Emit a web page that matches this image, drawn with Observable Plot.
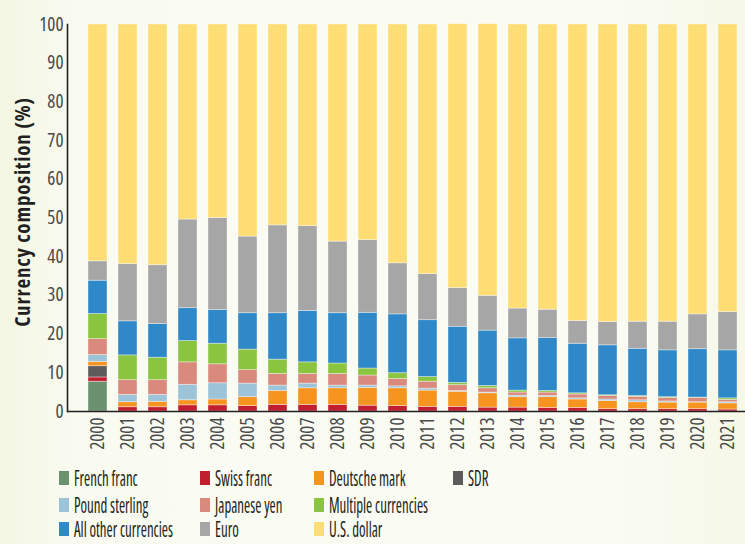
<!DOCTYPE html>
<html>
<head>
<meta charset="utf-8">
<script src="https://cdn.jsdelivr.net/npm/d3@7"></script>
<script src="https://cdn.jsdelivr.net/npm/@observablehq/plot@0.6"></script>
<style>
  html, body { margin: 0; padding: 0; }
  body {
    width: 745px; height: 544px; overflow: hidden;
    background: linear-gradient(to right, #f3f6e2 0px, #f9faef 60px, #fafbf3 200px, #fafbf3 620px, #f6f8e8 745px);
    font-family: "Open Sans", sans-serif; font-stretch: 75%;
  }
  #chart svg { display: block; background: transparent; overflow: hidden; }
  #legend { position: relative; width: 745px; height: 82px; color: #231f20; font-size: 21px; font-weight: 500; line-height: 22px; }
  .item { position: absolute; display: flex; align-items: center; white-space: nowrap; height: 22px; }
  .sw { width: 10px; height: 14px; margin-right: 5px; flex: none; }
  .item span { display: inline-block; transform: scaleX(0.71); transform-origin: 0 50%; }
</style>
</head>
<body>
<div id="chart"></div>
<div id="legend"></div>
<script>
const years = ["2000","2001","2002","2003","2004","2005","2006","2007","2008","2009","2010","2011","2012","2013","2014","2015","2016","2017","2018","2019","2020","2021"];

const frenchFranc   = [7.7,0,0,0,0,0,0,0,0,0,0,0,0,0,0,0,0,0,0,0,0,0];
const swissFranc    = [1.1,1.1,1.1,1.6,1.6,1.4,1.7,1.7,1.7,1.5,1.4,1.2,1.2,1.0,1.0,0.9,0.9,0.6,0.6,0.6,0.6,0.5];
const sdr           = [2.9,0,0,0,0,0,0,0,0,0,0,0,0,0,0,0,0,0,0,0,0,0];
const deutscheMark  = [1.1,1.3,1.4,1.3,1.5,2.3,3.6,4.3,4.3,4.6,4.6,4.2,3.9,3.7,2.7,2.8,2.2,2.1,1.8,1.7,1.7,1.6];
const poundSterling = [1.8,1.9,1.8,4.0,4.2,3.5,1.4,1.2,0.7,0.6,0.5,0.5,0.2,0.2,0.4,0.3,0.3,0.4,0.5,0.3,0.1,0.3];
const japaneseYen   = [4.1,3.8,3.8,5.8,4.9,3.5,3.0,2.5,3.0,2.6,1.9,1.8,1.5,1.1,0.8,0.9,1.0,0.9,0.9,0.9,1.1,0.6];
const multiple      = [6.5,6.4,5.8,5.5,5.3,5.3,3.7,3.0,2.7,1.8,1.5,1.2,0.6,0.6,0.5,0.4,0.3,0.2,0.2,0.2,0.1,0.4];
const allOther      = [8.6,8.8,8.7,8.5,8.7,9.4,12.0,13.3,13.0,14.4,15.2,14.7,14.5,14.3,13.5,13.7,12.8,12.9,12.2,12.1,12.5,12.4];
const euro          = [5.0,14.8,15.2,22.9,23.8,19.8,22.7,21.9,18.5,18.8,13.2,11.9,10.0,9.0,7.7,7.3,5.9,6.0,7.0,7.4,9.0,9.9];
const usDollar      = [61.2,61.9,62.2,50.4,50.0,54.8,51.9,52.1,56.1,55.7,61.7,64.5,68.2,70.2,73.4,73.7,76.6,76.9,76.8,76.8,74.9,74.3];

const legendOrder = ["French franc","Swiss franc","Deutsche mark","SDR","Pound sterling","Japanese yen","Multiple currencies","All other currencies","Euro","U.S. dollar"];
const stackOrder  = ["French franc","Swiss franc","SDR","Deutsche mark","Pound sterling","Japanese yen","Multiple currencies","All other currencies","Euro","U.S. dollar"];
const colors = {
  "French franc": "#6b926f",
  "Swiss franc": "#c11f2f",
  "Deutsche mark": "#f7941f",
  "SDR": "#5e5b5c",
  "Pound sterling": "#9dc3d8",
  "Japanese yen": "#da8a7c",
  "Multiple currencies": "#8bc53f",
  "All other currencies": "#2f89c9",
  "Euro": "#a6a6a6",
  "U.S. dollar": "#ffdd75"
};
const seriesValues = {
  "French franc": frenchFranc, "Swiss franc": swissFranc, "SDR": sdr,
  "Deutsche mark": deutscheMark, "Pound sterling": poundSterling,
  "Japanese yen": japaneseYen, "Multiple currencies": multiple,
  "All other currencies": allOther, "Euro": euro, "U.S. dollar": usDollar
};

const rows = [];
for (const c of stackOrder) {
  seriesValues[c].forEach((v, i) => { if (v > 0) rows.push({year: years[i], currency: c, value: v}); });
}

const W = 745, H = 462;
const plot = Plot.plot({
  width: W, height: H,
  marginLeft: 67, marginRight: 0, marginTop: 24, marginBottom: 51,
  style: "background: transparent; font-family: 'Open Sans', sans-serif; font-stretch: 75%; color: #4a4a4a;",
  x: {domain: years, range: [67, 758], paddingInner: 0.38, paddingOuter: 0.42, label: null},
  y: {domain: [0, 100], label: null},
  color: {domain: legendOrder, range: legendOrder.map(d => colors[d])},
  marks: [
    Plot.barY(rows, Plot.stackY({order: stackOrder}, {
      x: "year", y: "value", fill: "currency",
      stroke: "#ffffff", strokeOpacity: 0.45, strokeWidth: 0.8
    })),
    Plot.axisY({ticks: d3.range(0, 101, 10), tickSize: 0, tickPadding: 4, fontSize: 19, fill: "#4a4a4a",
      label: "Currency composition (%)", labelAnchor: "center", labelArrow: false, labelOffset: 52}),
    Plot.axisX({tickSize: 0, tickPadding: 6, tickRotate: -90, fontSize: 19, fill: "#4a4a4a", label: null}),
    Plot.ruleY([0], {stroke: "#231f20", strokeWidth: 1.6}),
    Plot.frame({anchor: "left", stroke: "#231f20", strokeWidth: 1.6})
  ]
});
document.getElementById("chart").appendChild(plot);

// style y axis label
const svg = d3.select(plot);
svg.selectAll("text").filter(function(){ return this.textContent === "Currency composition (%)"; })
  .attr("font-weight", "bold").attr("fill", "#231f20").attr("font-size", 21)
  .attr("dx", 6).attr("letter-spacing", 0.8);

// legend
const colX = [59, 200, 314, 453];
const rowY = [16, 43, 67];
const legendPos = [[0,0],[0,1],[0,2],[0,3],[1,0],[1,1],[1,2],[2,0],[2,1],[2,2]];
const legend = d3.select("#legend");
legendOrder.forEach((name, i) => {
  const [r, c] = legendPos[i];
  const it = legend.append("div").attr("class", "item")
    .style("left", colX[c] + "px").style("top", (rowY[r] - 11) + "px");
  it.append("div").attr("class", "sw").style("background", colors[name]);
  it.append("span").text(name);
});
</script>
</body>
</html>
